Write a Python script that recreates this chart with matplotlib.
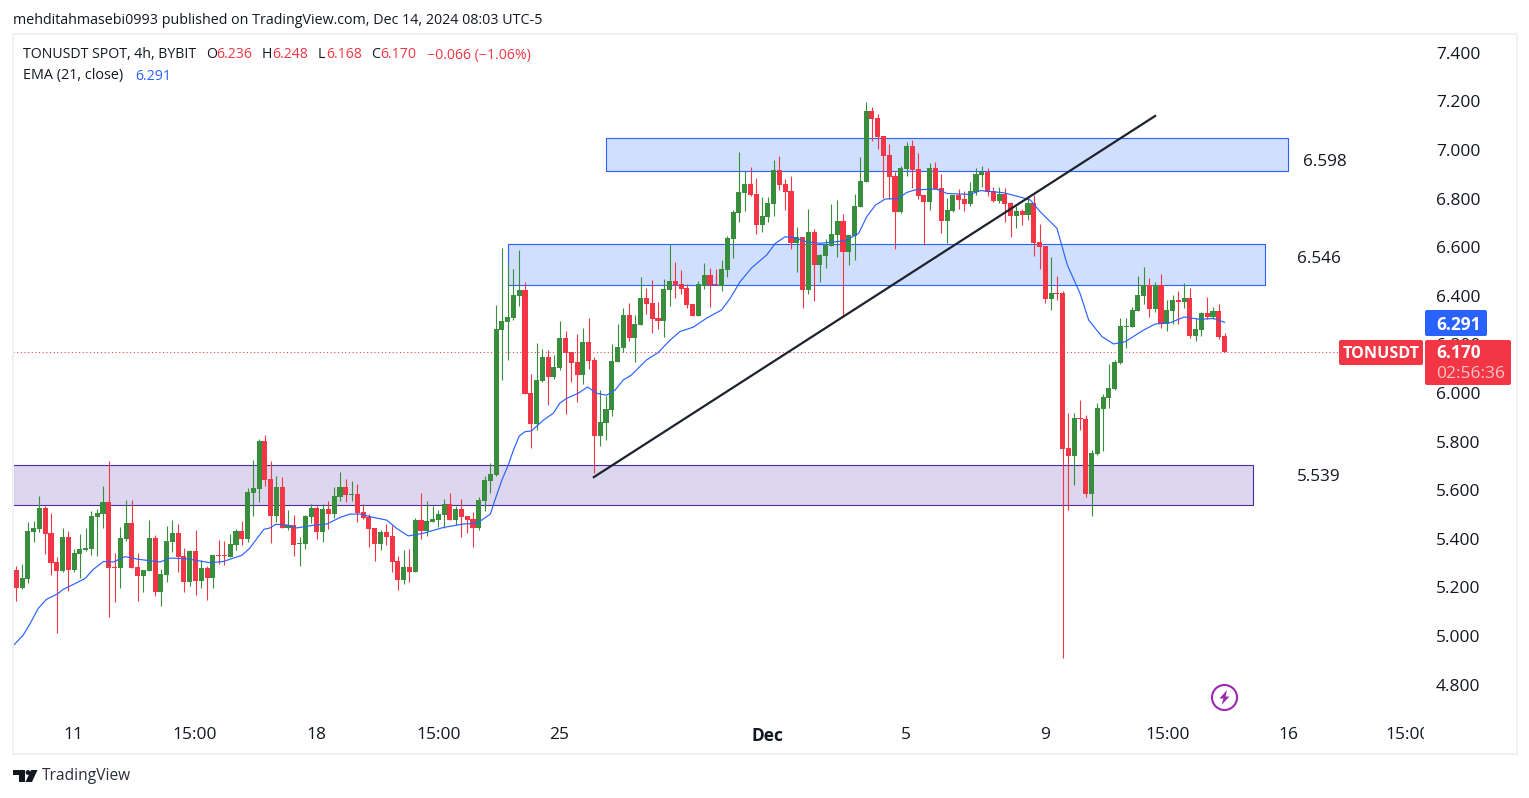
import numpy as np
import matplotlib
matplotlib.use("Agg")
import matplotlib.pyplot as plt
from matplotlib.patches import Rectangle, FancyBboxPatch, Circle, Polygon
from matplotlib.transforms import Bbox

plt.rcParams['font.family'] = ['Open Sans', 'DejaVu Sans']

# 4h candles
opens = [5.272, 5.199, 5.236, 5.428, 5.442, 5.527, 5.424, 5.305, 5.268, 5.408,
         5.272, 5.338, 5.354, 5.358, 5.490, 5.502, 5.552, 5.284, 5.280, 5.399,
         5.465, 5.284, 5.247, 5.268, 5.403, 5.181, 5.251, 5.387, 5.424, 5.329,
         5.222, 5.350, 5.226, 5.280, 5.239, 5.333, 5.333, 5.325, 5.375, 5.432,
         5.399, 5.589, 5.605, 5.803, 5.646, 5.494, 5.613, 5.445, 5.457, 5.379,
         5.379, 5.490, 5.527, 5.428, 5.523, 5.502, 5.572, 5.613, 5.580, 5.584,
         5.510, 5.490, 5.445, 5.379, 5.428, 5.412, 5.309, 5.231, 5.284, 5.263,
         5.477, 5.432, 5.469, 5.477, 5.498, 5.543, 5.477, 5.523, 5.494, 5.481,
         5.445, 5.556, 5.638, 5.663, 6.260, 6.293, 6.309, 6.400, 6.424, 6.000,
         5.873, 6.050, 6.149, 6.066, 6.103, 6.227, 6.169, 6.128, 6.074, 6.210,
         6.136, 5.823, 5.877, 5.930, 6.128, 6.186, 6.321, 6.227, 6.280, 6.391,
         6.371, 6.309, 6.297, 6.424, 6.461, 6.449, 6.432, 6.367, 6.317, 6.441,
         6.486, 6.449, 6.441, 6.506, 6.633, 6.740, 6.823, 6.860, 6.819, 6.691,
         6.724, 6.777, 6.917, 6.860, 6.831, 6.617, 6.642, 6.424, 6.662, 6.526,
         6.563, 6.605, 6.650, 6.707, 6.580, 6.646, 6.765, 6.868, 7.160, 7.131,
         7.057, 6.979, 6.893, 6.745, 6.921, 7.016, 6.921, 6.814, 6.786, 6.926,
         6.843, 6.707, 6.749, 6.814, 6.798, 6.778, 6.827, 6.897, 6.909, 6.831,
         6.790, 6.819, 6.782, 6.728, 6.749, 6.733, 6.782, 6.621, 6.605, 6.387,
         6.412, 6.412, 5.774, 5.741, 5.897, 5.893, 5.584, 5.749, 5.934, 5.979,
         6.016, 6.123, 6.272, 6.272, 6.337, 6.399, 6.444, 6.346, 6.444, 6.284,
         6.337, 6.383, 6.374, 6.391, 6.235, 6.259, 6.329, 6.313, 6.337, 6.236]
highs = [5.288, 5.296, 5.469, 5.473, 5.576, 5.535, 5.506, 5.325, 5.445, 5.432,
         5.358, 5.420, 5.445, 5.515, 5.523, 5.617, 5.720, 5.342, 5.449, 5.560,
         5.560, 5.342, 5.272, 5.477, 5.416, 5.276, 5.453, 5.477, 5.461, 5.362,
         5.354, 5.436, 5.313, 5.288, 5.333, 5.395, 5.391, 5.420, 5.440, 5.473,
         5.609, 5.724, 5.811, 5.827, 5.720, 5.659, 5.654, 5.519, 5.498, 5.408,
         5.498, 5.543, 5.535, 5.543, 5.556, 5.613, 5.675, 5.646, 5.638, 5.626,
         5.543, 5.502, 5.445, 5.436, 5.461, 5.457, 5.329, 5.354, 5.358, 5.486,
         5.589, 5.556, 5.535, 5.519, 5.564, 5.589, 5.535, 5.564, 5.494, 5.510,
         5.572, 5.659, 5.712, 6.363, 6.597, 6.531, 6.511, 6.589, 6.457, 6.079,
         6.206, 6.181, 6.177, 6.157, 6.297, 6.256, 6.169, 6.243, 6.268, 6.309,
         6.149, 6.013, 5.988, 6.202, 6.284, 6.350, 6.371, 6.321, 6.478, 6.432,
         6.465, 6.375, 6.470, 6.612, 6.539, 6.507, 6.449, 6.367, 6.461, 6.535,
         6.515, 6.511, 6.548, 6.645, 6.753, 6.991, 6.913, 6.930, 6.884, 6.806,
         6.806, 6.959, 6.975, 6.880, 6.893, 6.683, 6.642, 6.757, 6.675, 6.572,
         6.633, 6.777, 6.794, 6.736, 6.650, 6.819, 6.971, 7.197, 7.177, 7.148,
         7.057, 7.024, 6.909, 6.934, 7.033, 7.041, 6.987, 6.814, 6.946, 6.950,
         6.901, 6.802, 6.814, 6.839, 6.831, 6.868, 6.926, 6.934, 6.926, 6.848,
         6.848, 6.844, 6.786, 6.770, 6.757, 6.807, 6.815, 6.695, 6.605, 6.560,
         6.481, 6.420, 5.918, 5.918, 5.971, 5.909, 5.765, 5.959, 5.996, 6.119,
         6.136, 6.309, 6.309, 6.354, 6.481, 6.519, 6.473, 6.457, 6.490, 6.383,
         6.403, 6.420, 6.453, 6.432, 6.309, 6.333, 6.395, 6.354, 6.366, 6.248]
lows = [5.144, 5.194, 5.218, 5.388, 5.428, 5.338, 5.251, 5.012, 5.263, 5.185,
        5.263, 5.239, 5.350, 5.333, 5.329, 5.445, 5.078, 5.140, 5.198, 5.391,
        5.280, 5.144, 5.181, 5.268, 5.165, 5.124, 5.222, 5.346, 5.263, 5.181,
        5.206, 5.169, 5.198, 5.148, 5.198, 5.296, 5.292, 5.325, 5.354, 5.375,
        5.387, 5.494, 5.552, 5.617, 5.383, 5.469, 5.445, 5.436, 5.329, 5.288,
        5.358, 5.465, 5.399, 5.387, 5.440, 5.486, 5.556, 5.552, 5.556, 5.469,
        5.481, 5.366, 5.309, 5.354, 5.375, 5.263, 5.189, 5.214, 5.222, 5.263,
        5.399, 5.412, 5.469, 5.449, 5.445, 5.477, 5.457, 5.408, 5.424, 5.366,
        5.436, 5.515, 5.589, 5.660, 6.054, 6.136, 6.301, 6.358, 5.996, 5.774,
        5.848, 6.046, 5.951, 6.058, 6.095, 5.914, 6.046, 5.963, 6.037, 6.099,
        5.671, 5.782, 5.807, 5.906, 6.128, 6.169, 6.214, 6.128, 6.280, 6.325,
        6.247, 6.264, 6.231, 6.358, 6.391, 6.408, 6.350, 6.317, 6.317, 6.428,
        6.354, 6.445, 6.420, 6.477, 6.555, 6.703, 6.749, 6.810, 6.654, 6.662,
        6.703, 6.728, 6.835, 6.753, 6.592, 6.498, 6.349, 6.407, 6.378, 6.456,
        6.514, 6.605, 6.559, 6.312, 6.526, 6.547, 6.765, 6.868, 7.037, 7.004,
        6.802, 6.798, 6.592, 6.740, 6.893, 6.843, 6.798, 6.609, 6.753, 6.839,
        6.658, 6.617, 6.745, 6.757, 6.749, 6.770, 6.815, 6.848, 6.811, 6.786,
        6.782, 6.704, 6.642, 6.679, 6.691, 6.712, 6.564, 6.510, 6.370, 6.342,
        6.383, 4.911, 5.519, 5.621, 5.848, 5.572, 5.494, 5.745, 5.761, 5.938,
        6.012, 6.119, 6.185, 6.272, 6.337, 6.366, 6.313, 6.333, 6.267, 6.255,
        6.284, 6.284, 6.350, 6.226, 6.214, 6.235, 6.305, 6.305, 6.222, 6.168]
closes = [5.199, 5.239, 5.432, 5.445, 5.527, 5.420, 5.301, 5.268, 5.408, 5.272,
          5.342, 5.358, 5.362, 5.494, 5.506, 5.552, 5.280, 5.280, 5.403, 5.465,
          5.280, 5.247, 5.272, 5.403, 5.181, 5.255, 5.391, 5.424, 5.325, 5.222,
          5.350, 5.226, 5.280, 5.239, 5.333, 5.329, 5.329, 5.379, 5.432, 5.399,
          5.593, 5.609, 5.803, 5.642, 5.494, 5.613, 5.445, 5.457, 5.375, 5.383,
          5.494, 5.527, 5.428, 5.523, 5.502, 5.576, 5.613, 5.580, 5.584, 5.506,
          5.486, 5.440, 5.379, 5.428, 5.408, 5.305, 5.231, 5.284, 5.263, 5.477,
          5.432, 5.473, 5.481, 5.502, 5.543, 5.477, 5.523, 5.490, 5.477, 5.445,
          5.560, 5.642, 5.667, 6.264, 6.297, 6.313, 6.404, 6.424, 5.996, 5.873,
          6.054, 6.149, 6.066, 6.107, 6.227, 6.165, 6.124, 6.074, 6.210, 6.132,
          5.823, 5.881, 5.935, 6.132, 6.190, 6.321, 6.227, 6.284, 6.391, 6.367,
          6.305, 6.297, 6.428, 6.461, 6.445, 6.428, 6.363, 6.317, 6.449, 6.486,
          6.445, 6.445, 6.511, 6.638, 6.745, 6.827, 6.860, 6.814, 6.691, 6.728,
          6.782, 6.917, 6.856, 6.827, 6.617, 6.642, 6.424, 6.662, 6.526, 6.568,
          6.609, 6.654, 6.707, 6.580, 6.650, 6.769, 6.872, 7.160, 7.127, 7.053,
          6.975, 6.889, 6.745, 6.926, 7.016, 6.917, 6.810, 6.786, 6.926, 6.839,
          6.707, 6.753, 6.814, 6.794, 6.778, 6.831, 6.901, 6.909, 6.827, 6.790,
          6.819, 6.778, 6.728, 6.749, 6.733, 6.782, 6.617, 6.601, 6.387, 6.412,
          6.407, 5.771, 5.741, 5.897, 5.893, 5.584, 5.753, 5.938, 5.984, 6.020,
          6.128, 6.276, 6.276, 6.342, 6.403, 6.444, 6.346, 6.444, 6.284, 6.342,
          6.383, 6.374, 6.391, 6.235, 6.263, 6.329, 6.313, 6.337, 6.230, 6.170]

# EMA (21): bar index, price
ema_bar = [-0.6, 1.2, 2.4, 3.8, 5.2, 7.1, 8.1, 9.9, 11.9, 13.3, 15.1, 16.8, 18.8, 21.1, 24.9, 26.6,
           29.5, 33.5, 35.8, 39.0, 40.4, 42.8, 43.9, 44.9, 46.8, 48.5, 51.4, 53.7, 56.0, 57.7, 59.5,
           61.8, 64.1, 65.8, 67.8, 70.4, 73.9, 77.3, 79.7, 82.0, 82.8, 84.0, 85.1, 86.0, 87.0, 88.0,
           89.1, 91.2, 92.9, 94.0, 95.2, 97.2, 98.8, 100.4, 102.1, 103.6, 105.0, 106.4, 109.0, 111.0,
           113.1, 114.8, 117.1, 119.4, 122.0, 123.5, 125.2, 127.2, 129.8, 131.3, 133.0, 134.7, 136.7,
           139.0, 141.6, 143.4, 145.7, 147.1, 148.6, 150.3, 152.6, 154.0, 155.5, 159.2, 161.0, 165.0,
           166.8, 170.8, 174.0, 175.4, 177.1, 180.0, 181.8, 184.0, 185.5, 187.8, 189.8, 191.8, 195.0,
           197.0, 199.6, 202.0, 204.8, 207.1, 209.0]
ema_val = [4.959, 5.004, 5.052, 5.114, 5.151, 5.173, 5.192, 5.213, 5.237, 5.274, 5.307, 5.305, 5.327, 5.316, 5.305, 5.321,
           5.318, 5.302, 5.307, 5.332, 5.362, 5.439, 5.445, 5.460, 5.457, 5.445, 5.456, 5.461, 5.488, 5.502, 5.502,
           5.488, 5.477, 5.443, 5.412, 5.423, 5.447, 5.461, 5.464, 5.502, 5.560, 5.642, 5.704, 5.766, 5.823, 5.841,
           5.844, 5.889, 5.917, 5.958, 5.978, 5.999, 6.025, 5.999, 5.991, 6.013, 6.054, 6.074, 6.136, 6.166,
           6.218, 6.253, 6.271, 6.308, 6.342, 6.390, 6.458, 6.515, 6.568, 6.616, 6.643, 6.639, 6.622,
           6.616, 6.622, 6.627, 6.657, 6.725, 6.773, 6.798, 6.801, 6.825, 6.836, 6.839, 6.821, 6.817,
           6.833, 6.824, 6.804, 6.794, 6.746, 6.678, 6.527, 6.410, 6.300, 6.232, 6.202, 6.211, 6.259,
           6.284, 6.289, 6.313, 6.303, 6.307, 6.291]

# drawn zones and trend line: bar range, price range
zone_bars = [(102.0, 220.0), (85.0, 216.0), (-0.6, 214.0)]
zone_prices = [(6.914, 7.049), (6.444, 6.613), (5.539, 5.704)]
trend_bars = [99.9, 197.0]
trend_prices = [5.654, 7.140]

price_ticks = [4.8, 5.0, 5.2, 5.4, 5.6, 5.8, 6.0, 6.2, 6.4, 6.6, 6.8, 7.0, 7.2, 7.4]
time_ticks = [9.8, 30.9, 52.0, 73.0, 93.9, 130.0, 153.9, 178.0, 199.1, 220.0, 240.6]
time_labels = ['11', '15:00', '18', '15:00', '25', 'Dec', '5', '9', '15:00', '16', '15:00']

GREEN = '#388e3c'
RED = '#f23645'
BLUE = '#2962ff'
DARK = '#131722'

fig = plt.figure(figsize=(15.29, 7.98), dpi=100)
ax = fig.add_axes([13 / 1529, 1 - 718 / 798, (1424 - 13) / 1529, (718 - 35) / 798])
ax.set_xlim(-0.571, 243.5)
ax.set_ylim(4.663, 7.473)

# zones
for (x0, x1), (y0, y1), fc, ec in zip(zone_bars, zone_prices,
                                      ['#d1dffe', '#d1dffe', '#dcd6ee'],
                                      [BLUE, BLUE, '#4a2f9c']):
    ax.add_patch(Rectangle((x0, y0), x1 - x0, y1 - y0, fc=fc, ec=ec, lw=0.8, zorder=1))

ax.axhline(closes[-1], color=RED, lw=0.75, ls=(0, (1, 2.5)), zorder=1.5)

# candles
bars = np.arange(len(opens))
o = np.array(opens)
h = np.array(highs)
l = np.array(lows)
c = np.array(closes)
colors = [GREEN if b >= a else RED for a, b in zip(o, c)]
ax.vlines(bars, l, h, colors=colors, lw=0.8, zorder=2)
ax.bar(bars, np.maximum(np.abs(c - o), 0.004), bottom=np.minimum(o, c), width=0.88, color=colors, lw=0, zorder=2.1)

ax.plot(ema_bar, ema_val, color=BLUE, lw=0.85, zorder=3)
ax.plot(trend_bars, trend_prices, color='#1e222d', lw=1.6, zorder=4)

for s in ax.spines.values():
    s.set_visible(False)
ax.yaxis.tick_right()
ax.set_yticks(price_ticks)
ax.set_yticklabels(['%.3f' % p for p in price_ticks])
ax.set_xticks(time_ticks)
ax.set_xticklabels(time_labels)
ax.tick_params(axis='y', length=0, pad=8.5, labelsize=12.5, labelcolor=DARK)
ax.tick_params(axis='x', length=0, pad=6.5, labelsize=12.5, labelcolor=DARK)
for lab in ax.get_yticklabels():
    lab.set_va('center_baseline')
xlabels = ax.get_xticklabels()
xlabels[5].set_fontweight('bold')
xlabels[-1].set_clip_box(Bbox([[0, 0], [1424, 798]]))
xlabels[-1].set_clip_on(True)

# overlay in pixel coordinates for frame, labels and header
ov = fig.add_axes([0, 0, 1, 1], zorder=5)
ov.set_xlim(0, 1529)
ov.set_ylim(798, 0)
ov.axis('off')
ov.patch.set_alpha(0)

ov.add_patch(Rectangle((12.5, 34), 1504, 719.5, fc='none', ec='#f0f0f6', lw=1.5))

ov.text(13, 20, 'mehditahmasebi0993 published on TradingView.com, Dec 14, 2024 08:03 UTC-5',
        fontsize=10.3, color=DARK, va='center')
ov.text(23, 55, 'TONUSDT SPOT, 4h, BYBIT', fontsize=10.2, color=DARK, va='center')
for x, t, col in [(206, 'O', DARK), (216, '6.236', RED), (262, 'H', DARK), (272, '6.248', RED),
                  (318, 'L', DARK), (326, '6.168', RED), (371, 'C', DARK), (380, '6.170', RED),
                  (427, '\u22120.066 (\u22121.06%)', RED)]:
    ov.text(x, 55, t, fontsize=10.2, color=col, va='center')
ov.text(23, 76, 'EMA (21, close)', fontsize=10.4, color=DARK, va='center')
ov.text(135, 76, '6.291', fontsize=10.2, color=BLUE, va='center')

# level labels beside the zones
ov.text(1303, 162, '6.598', fontsize=12.3, color=DARK, va='center')
ov.text(1297, 259, '6.546', fontsize=12.3, color=DARK, va='center')
ov.text(1297, 477, '5.539', fontsize=12.3, color=DARK, va='center')

# price labels on the scale
def tag(x0, y0, x1, y1, col):
    ov.add_patch(FancyBboxPatch((x0 + 1, y0 + 1), x1 - x0 - 2, y1 - y0 - 2, boxstyle='round,pad=1,rounding_size=2',
                                fc=col, ec='none'))

tag(1425, 310, 1487, 336, BLUE)
tag(1425, 340, 1511, 385, RED)
tag(1339, 340, 1423, 365, RED)
ov.text(1436, 324.5, '6.291', fontsize=12.5, color='white', va='center', fontweight='bold')
ov.text(1436, 353.5, '6.170', fontsize=12.5, color='white', va='center', fontweight='bold')
ov.text(1436, 374.5, '02:56:36', fontsize=12.5, color='#fbc5ca', va='center')
ov.text(1381, 353.5, 'TONUSDT', fontsize=11.6, color='white', va='center', ha='center', fontweight='bold')

# lightning badge
ov.add_patch(Circle((1224.5, 697.5), 12.5, fc='white', ec='#9c27b0', lw=1.5))
ov.add_patch(Polygon([(1227, 690), (1219.5, 698.5), (1223.5, 698.5), (1221.5, 705),
                      (1229.5, 696.5), (1225.5, 696.5)], fc='#9c27b0', ec='none'))

# logo
ov.add_patch(Polygon([(13, 770), (24.5, 770), (24.5, 782), (18.5, 782), (18.5, 775), (13, 775)], fc=DARK, ec='none'))
ov.add_patch(Circle((28, 772.5), 2.4, fc=DARK, ec='none'))
ov.add_patch(Polygon([(31, 770), (37.5, 770), (32, 782), (25.5, 782)], fc=DARK, ec='none'))
ov.text(42, 776.5, 'TradingView', fontsize=11.2, color='#2a2e39', va='center')

fig.savefig('out.png', dpi=100)
